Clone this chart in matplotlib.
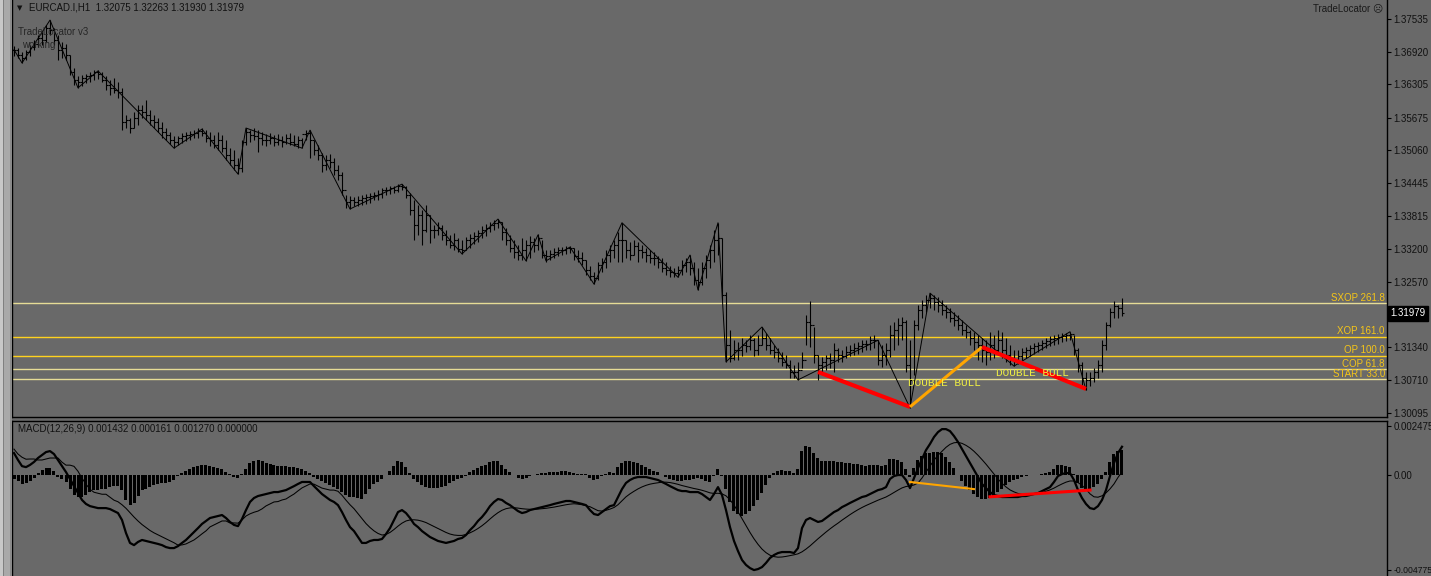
import numpy as np
import matplotlib
matplotlib.use('Agg')
import matplotlib.pyplot as plt
import matplotlib.transforms as mtransforms

# ── canvas / colours ──────────────────────────────────────────────────────────
W, H = 1431, 576
BG = '#696969'
TXT = '#111111'
FONT = ['Liberation Sans', 'DejaVu Sans']

# ── EURCAD H1 bars, prices given as pips above 1.3000 ────────────────────────
HIGH_PIPS = [
    703, 699, 692, 696, 705, 714, 724, 730, 743, 752,
    737, 724, 711, 707, 686, 661, 646, 648, 650, 654,
    658, 658, 654, 646, 639, 643, 635, 624, 573, 567,
    578, 592, 592, 601, 582, 573, 567, 559, 548, 540,
    533, 533, 539, 540, 542, 544, 548, 548, 544, 540,
    535, 540, 535, 525, 510, 507, 491, 525, 548, 544,
    548, 544, 540, 537, 539, 535, 537, 533, 537, 539,
    535, 533, 529, 544, 544, 525, 516, 501, 497, 499,
    491, 478, 465, 421, 420, 418, 420, 421, 423, 425,
    427, 431, 435, 437, 438, 438, 442, 442, 438, 425,
    412, 403, 393, 403, 384, 365, 370, 365, 355, 346,
    350, 340, 336, 342, 348, 351, 355, 363, 367, 370,
    374, 376, 370, 359, 346, 336, 327, 340, 336, 344,
    340, 348, 336, 318, 318, 321, 323, 323, 325, 325,
    321, 318, 314, 299, 287, 276, 295, 302, 318, 327,
    336, 352, 369, 336, 333, 336, 333, 327, 321, 318,
    314, 306, 302, 295, 287, 283, 287, 299, 302, 308,
    295, 283, 295, 308, 327, 355, 369, 340, 238, 166,
    147, 144, 151, 147, 157, 151, 157, 172, 161, 151,
    138, 132, 125, 119, 110, 100, 106, 125, 195, 221,
    172, 119, 115, 119, 123, 142, 132, 129, 136, 138,
    142, 144, 147, 147, 155, 157, 147, 138, 142, 176,
    181, 189, 191, 185, 147, 185, 214, 223, 232, 236,
    232, 229, 223, 214, 208, 200, 195, 185, 176, 166,
    163, 157, 151, 147, 163, 157, 166, 163, 151, 138,
    129, 129, 132, 134, 138, 142, 144, 147, 151, 155,
    157, 159, 161, 161, 163, 157, 132, 106, 87, 87,
    94, 110, 147, 181, 208, 221, 214, 226,
]
LOW_PIPS = [
    684, 680, 671, 677, 684, 696, 701, 705, 711, 724,
    705, 677, 680, 677, 648, 629, 624, 627, 633, 635,
    639, 641, 635, 620, 610, 614, 605, 544, 548, 539,
    548, 554, 567, 563, 554, 548, 540, 529, 525, 518,
    510, 516, 520, 524, 525, 529, 529, 533, 522, 514,
    510, 507, 503, 488, 478, 469, 461, 465, 516, 522,
    525, 503, 516, 514, 518, 514, 516, 512, 518, 516,
    514, 510, 510, 525, 491, 497, 488, 465, 469, 472,
    459, 450, 421, 397, 395, 401, 401, 403, 404, 406,
    412, 412, 416, 421, 423, 425, 427, 431, 416, 384,
    336, 346, 327, 352, 331, 340, 346, 336, 327, 321,
    318, 314, 310, 318, 321, 329, 333, 340, 344, 352,
    355, 359, 336, 327, 314, 302, 299, 299, 297, 302,
    314, 318, 302, 295, 299, 302, 306, 308, 310, 312,
    299, 295, 289, 270, 261, 253, 261, 276, 283, 295,
    302, 295, 295, 302, 299, 308, 295, 302, 295, 293,
    289, 283, 276, 270, 266, 266, 266, 270, 276, 270,
    251, 242, 251, 264, 283, 295, 308, 223, 106, 106,
    110, 110, 117, 125, 129, 117, 119, 138, 129, 121,
    113, 106, 98, 94, 76, 76, 72, 94, 138, 134,
    104, 72, 87, 91, 94, 87, 106, 106, 113, 117,
    119, 121, 125, 129, 129, 132, 100, 96, 100, 115,
    129, 138, 147, 87, 19, 81, 166, 189, 200, 208,
    204, 200, 195, 189, 181, 174, 166, 157, 151, 138,
    129, 110, 106, 100, 110, 113, 119, 113, 106, 100,
    98, 102, 110, 113, 117, 121, 125, 129, 132, 136,
    138, 140, 144, 146, 147, 119, 87, 62, 53, 60,
    68, 76, 87, 129, 172, 189, 189, 193,
]
CLOSE_PIPS = [
    696, 686, 680, 692, 701, 707, 718, 714, 737, 733,
    714, 696, 699, 686, 654, 639, 635, 643, 646, 648,
    654, 650, 639, 629, 624, 620, 616, 559, 563, 548,
    567, 582, 578, 573, 563, 559, 548, 540, 535, 525,
    522, 529, 533, 535, 537, 539, 542, 539, 529, 525,
    516, 525, 510, 497, 488, 478, 472, 522, 540, 535,
    533, 529, 525, 525, 529, 522, 525, 522, 529, 522,
    518, 525, 537, 539, 525, 507, 497, 478, 488, 484,
    469, 459, 431, 408, 412, 408, 412, 416, 418, 420,
    421, 423, 431, 431, 435, 431, 438, 437, 421, 393,
    365, 384, 355, 384, 355, 355, 359, 346, 336, 327,
    336, 320, 318, 336, 340, 344, 350, 355, 359, 365,
    369, 370, 352, 336, 321, 314, 308, 318, 327, 333,
    327, 340, 308, 306, 310, 314, 318, 318, 321, 321,
    306, 302, 299, 280, 268, 265, 289, 295, 308, 318,
    327, 336, 336, 318, 308, 325, 318, 314, 308, 302,
    302, 295, 283, 280, 276, 274, 280, 289, 295, 283,
    261, 257, 283, 299, 318, 336, 340, 232, 138, 113,
    129, 129, 138, 136, 147, 129, 138, 151, 138, 129,
    125, 113, 106, 100, 87, 87, 91, 110, 181, 176,
    119, 100, 106, 113, 110, 129, 119, 117, 125, 129,
    132, 136, 140, 140, 147, 147, 110, 119, 129, 157,
    166, 176, 181, 100, 72, 176, 204, 214, 223, 227,
    219, 214, 204, 200, 189, 185, 176, 166, 163, 151,
    144, 138, 129, 125, 138, 129, 147, 129, 119, 113,
    110, 117, 125, 129, 132, 136, 138, 142, 146, 149,
    151, 153, 155, 157, 159, 129, 100, 76, 72, 76,
    87, 100, 138, 176, 201, 212, 208, 198,
]

# ── MACD(12,26,9): main and signal lines, in units of 1e-5 ───────────────────
MACD_E5 = [
    111, 76, 45, 40, 51, 66, 86, 101, 116, 121,
    106, 76, 45, 15, -20, -56, -91, -126, -146, -157,
    -162, -167, -167, -167, -172, -182, -192, -227, -293, -343,
    -354, -338, -328, -333, -338, -343, -348, -354, -364, -369,
    -369, -359, -343, -328, -308, -288, -268, -247, -232, -217,
    -212, -207, -202, -217, -237, -252, -258, -222, -177, -136,
    -116, -106, -101, -96, -91, -86, -86, -81, -76, -66,
    -56, -45, -35, -35, -35, -56, -76, -96, -111, -126,
    -136, -152, -187, -227, -263, -283, -313, -343, -343, -333,
    -328, -328, -323, -298, -268, -227, -187, -177, -192, -217,
    -247, -263, -283, -298, -313, -323, -333, -338, -343, -338,
    -333, -323, -318, -303, -278, -258, -232, -212, -187, -157,
    -136, -121, -126, -141, -152, -167, -182, -192, -187, -177,
    -172, -167, -162, -157, -152, -146, -141, -136, -131, -131,
    -136, -141, -146, -152, -177, -197, -202, -187, -172, -157,
    -152, -111, -71, -40, -25, -15, -10, -10, -10, -15,
    -20, -25, -35, -45, -56, -66, -76, -81, -81, -86,
    -86, -86, -96, -111, -126, -96, -61, -101, -177, -263,
    -333, -384, -429, -454, -470, -480, -475, -465, -444, -419,
    -404, -394, -389, -389, -389, -394, -369, -268, -227, -217,
    -227, -237, -232, -217, -202, -187, -177, -162, -152, -141,
    -131, -121, -111, -106, -96, -86, -76, -71, -61, -20,
    -5, 0, 0, -25, -66, -15, 35, 81, 126, 157,
    192, 217, 232, 232, 222, 197, 167, 131, 96, 61,
    25, -10, -45, -66, -86, -101, -106, -111, -111, -111,
    -111, -111, -106, -106, -101, -96, -91, -81, -71, -61,
    -35, -5, 5, 10, 10, -25, -76, -116, -146, -167,
    -172, -157, -126, -76, -5, 61, 111, 143,
]
SIGNAL_E5 = [
    131, 106, 90, 80, 81, 81, 76, 76, 81, 86,
    86, 86, 65, 50, 50, 44, 19, -16, -46, -72,
    -87, -92, -97, -97, -112, -127, -135, -150, -168, -190,
    -212, -232, -250, -265, -280, -292, -302, -312, -322, -332,
    -342, -354, -353, -348, -338, -328, -313, -297, -282, -262,
    -252, -242, -232, -232, -242, -242, -243, -227, -207, -196,
    -188, -182, -171, -156, -146, -136, -134, -126, -121, -108,
    -96, -80, -65, -55, -45, -46, -56, -66, -71, -76,
    -76, -82, -102, -127, -150, -170, -195, -220, -245, -265,
    -282, -295, -303, -300, -290, -275, -258, -243, -232, -227,
    -226, -228, -233, -240, -250, -260, -270, -280, -290, -298,
    -303, -305, -305, -300, -292, -282, -270, -256, -240, -222,
    -205, -190, -178, -170, -166, -165, -167, -170, -172, -173,
    -173, -172, -170, -168, -165, -162, -158, -154, -150, -147,
    -145, -147, -150, -155, -160, -170, -180, -182, -178, -172,
    -164, -150, -130, -110, -95, -82, -70, -60, -52, -46,
    -42, -39, -36, -36, -38, -42, -47, -53, -58, -63,
    -68, -72, -77, -83, -90, -93, -92, -95, -105, -125,
    -152, -185, -220, -255, -290, -322, -350, -374, -392, -405,
    -412, -415, -414, -411, -407, -403, -398, -388, -374, -358,
    -340, -322, -305, -288, -272, -257, -243, -228, -214, -200,
    -187, -175, -164, -154, -145, -136, -127, -119, -111, -100,
    -88, -76, -65, -58, -55, -50, -40, -15, 15, 45,
    75, 100, 120, 140, 155, 163, 165, 160, 150, 137,
    120, 100, 78, 55, 30, 5, -20, -42, -60, -75,
    -85, -93, -97, -99, -99, -97, -93, -88, -82, -75,
    -66, -55, -45, -36, -30, -30, -38, -52, -72, -95,
    -110, -112, -105, -90, -70, -45, -12, 16,
]

# ── overlays ──────────────────────────────────────────────────────────────────
ZIGZAG_IDX = [0, 2, 9, 16, 21, 40, 47, 56, 58, 72, 74, 84, 97, 112, 121, 128,
              131, 133, 139, 145, 152, 166, 169, 171, 176, 178, 187, 196, 216,
              224, 229, 250, 264, 268]
ZIGZAG_PIPS = [696, 671, 752, 624, 656, 510, 546, 461, 548, 510, 544, 395, 442,
               310, 376, 297, 346, 297, 323, 253, 369, 266, 308, 242, 369, 106,
               172, 72, 147, 19, 236, 98, 163, 53]

FIB_NAMES = ['SXOP 261.8', 'XOP 161.0', 'OP 100.0', 'COP 61.8', 'START 33.0']
FIB_PIPS = [217, 154, 117, 92, 73]
FIB_COLORS = ['#e6dc96', '#ffd21e', '#ffd21e', '#e6dc96', '#e6dc96']

PAT_RED1 = ([201, 224], [87, 21])
PAT_ORANGE = ([224, 242], [21, 134])
PAT_RED2 = ([242, 268], [134, 55])
MACD_ORANGE = ([224, 240], [-35, -71])
MACD_RED = ([244, 269], [-110, -76])
BULL_LABELS = [('DOUBLE BULL', 223.5, 66), ('DOUBLE BULL', 245.5, 85)]

MAIN_TICKS = [1.37535, 1.36920, 1.36305, 1.35675, 1.35060, 1.34445, 1.33815,
              1.33200, 1.32570, 1.31340, 1.30710, 1.30095]
MACD_TICKS = [0.002475, 0.0, -0.004775]
MACD_TICKLABELS = ['0.002475', '0.00', '-0.004775']
LAST_PRICE = 1.31979

# ── derived arrays ────────────────────────────────────────────────────────────
n = min(len(HIGH_PIPS), len(LOW_PIPS), len(CLOSE_PIPS), len(MACD_E5), len(SIGNAL_E5))
high = 1.30 + np.array(HIGH_PIPS[:n]) / 1e4
low = 1.30 + np.array(LOW_PIPS[:n]) / 1e4
close = 1.30 + np.array(CLOSE_PIPS[:n]) / 1e4
opn = np.r_[close[0], close[:-1]]
macd = np.array(MACD_E5[:n]) / 1e5
signal = np.array(SIGNAL_E5[:n]) / 1e5
osma = macd - signal
x = np.arange(n)


def pip(v):
    return 1.30 + np.asarray(v) / 1e4


def box(x0, y0, w, h):
    return [x0 / W, 1 - (y0 + h) / H, w / W, h / H]


fig = plt.figure(figsize=(W / 100, H / 100), dpi=100)
fig.patch.set_facecolor(BG)

# window frame on the far left
for x0, w, c in [(0, 2.7, '#c8c8c8'), (2.7, 1.3, '#808080'), (4, 6, '#a9a9a9'),
                 (10, 2, '#8a8a8a')]:
    fig.patches.append(plt.Rectangle((x0 / W, 0), w / W, 1, transform=fig.transFigure,
                                     facecolor=c, edgecolor='none', zorder=0))

# ── main price panel ──────────────────────────────────────────────────────────
ax = fig.add_axes(box(12, 0, 1375, 417))
ax.set_facecolor(BG)
ax.set_xlim(-0.5, 343.25)
ax.set_ylim(1.300187, 1.3790)

for lvl, col in zip(FIB_PIPS, FIB_COLORS):
    ax.axhline(pip(lvl), color=col, lw=1.0, zorder=1)
for name, lvl in zip(FIB_NAMES, FIB_PIPS):
    ax.text(342.7, pip(lvl) + 0.00012, name, ha='right', va='bottom', fontsize=7,
            color='#f5c518', family=FONT, zorder=5)

ax.vlines(x, low, high, color='black', lw=0.8, zorder=3)
ax.hlines(opn, x - 0.38, x, color='black', lw=0.8, zorder=3)
ax.hlines(close, x, x + 0.38, color='black', lw=0.8, zorder=3)
ax.plot(ZIGZAG_IDX, pip(ZIGZAG_PIPS), color='black', lw=0.7, zorder=3)

ax.plot(PAT_RED1[0], pip(PAT_RED1[1]), color='#ff0000', lw=3.0, solid_capstyle='butt', zorder=4)
ax.plot(PAT_ORANGE[0], pip(PAT_ORANGE[1]), color='#ffa500', lw=2.2, solid_capstyle='butt', zorder=4)
ax.plot(PAT_RED2[0], pip(PAT_RED2[1]), color='#ff0000', lw=3.0, solid_capstyle='butt', zorder=4)
for label, bx, by in BULL_LABELS:
    ax.text(bx, pip(by), label, ha='left', va='center', fontsize=8,
            family='Liberation Mono', color='#eeee44', zorder=5)

ax.set_xticks([])
ax.yaxis.tick_right()
ax.set_yticks(MAIN_TICKS)
ax.set_yticklabels([f'{v:.5f}' for v in MAIN_TICKS], family=FONT)
ax.tick_params(axis='y', direction='out', length=3, width=0.8, pad=1.5,
               labelsize=7, labelcolor=TXT, color='black')
for s in ['left', 'right', 'bottom']:
    ax.spines[s].set_color('black')
    ax.spines[s].set_linewidth(1.0)
ax.spines['top'].set_visible(False)

blend = mtransforms.blended_transform_factory(ax.transAxes, ax.transData)
ax.text(1.0 + 3 / 1375, LAST_PRICE, f'{LAST_PRICE:.5f}', transform=blend, ha='left',
        va='center', fontsize=7, color='white', family=FONT, clip_on=False, zorder=6,
        bbox=dict(boxstyle='square,pad=0.25', facecolor='black', edgecolor='black'))

# ── MACD panel ────────────────────────────────────────────────────────────────
am = fig.add_axes(box(12, 421, 1375, 155))
am.set_facecolor(BG)
am.set_xlim(-0.5, 343.25)
am.set_ylim(-0.00510, 0.00273)
am.bar(x, osma, width=0.75, color='black', linewidth=0, zorder=2)
am.plot(x, signal, color='black', lw=0.75, zorder=3)
am.plot(x, macd, color='black', lw=1.6, zorder=3)
am.plot(MACD_ORANGE[0], np.array(MACD_ORANGE[1]) / 1e5, color='#ffa500', lw=1.5, zorder=4)
am.plot(MACD_RED[0], np.array(MACD_RED[1]) / 1e5, color='#ff0000', lw=2.2, zorder=4)

am.set_xticks([])
am.yaxis.tick_right()
am.set_yticks(MACD_TICKS)
am.set_yticklabels(MACD_TICKLABELS, family=FONT)
am.tick_params(axis='y', direction='out', length=3, width=0.8, pad=1.5,
               labelsize=7, labelcolor=TXT, color='black')
am.get_yticklabels()[-1].set_fontsize(6.2)
for s in ['left', 'right', 'top']:
    am.spines[s].set_color('black')
    am.spines[s].set_linewidth(1.0)
am.spines['bottom'].set_visible(False)

# ── header texts ──────────────────────────────────────────────────────────────
fig.text(17 / W, 1 - 8 / H, '▼', fontsize=5, color=TXT, va='center', family='DejaVu Sans')
fig.text(29 / W, 1 - 8 / H, 'EURCAD.I,H1  1.32075 1.32263 1.31930 1.31979',
         fontsize=7, color=TXT, va='center', family=FONT)
fig.text(18 / W, 1 - 32 / H, 'TradeLocator v3', fontsize=7, color='#262626',
         va='center', family=FONT)
fig.text(22 / W, 1 - 45 / H, 'working', fontsize=7, color='#262626', va='center', family=FONT)
fig.text(1383 / W, 1 - 8 / H, 'TradeLocator ☹', fontsize=7, color='#1a1a1a',
         va='center', ha='right', family=FONT)
fig.text(18 / W, 1 - 429 / H, 'MACD(12,26,9) 0.001432 0.000161 0.001270 0.000000',
         fontsize=7, color=TXT, va='center', family=FONT)

fig.savefig('out.png', dpi=100, facecolor=BG)
